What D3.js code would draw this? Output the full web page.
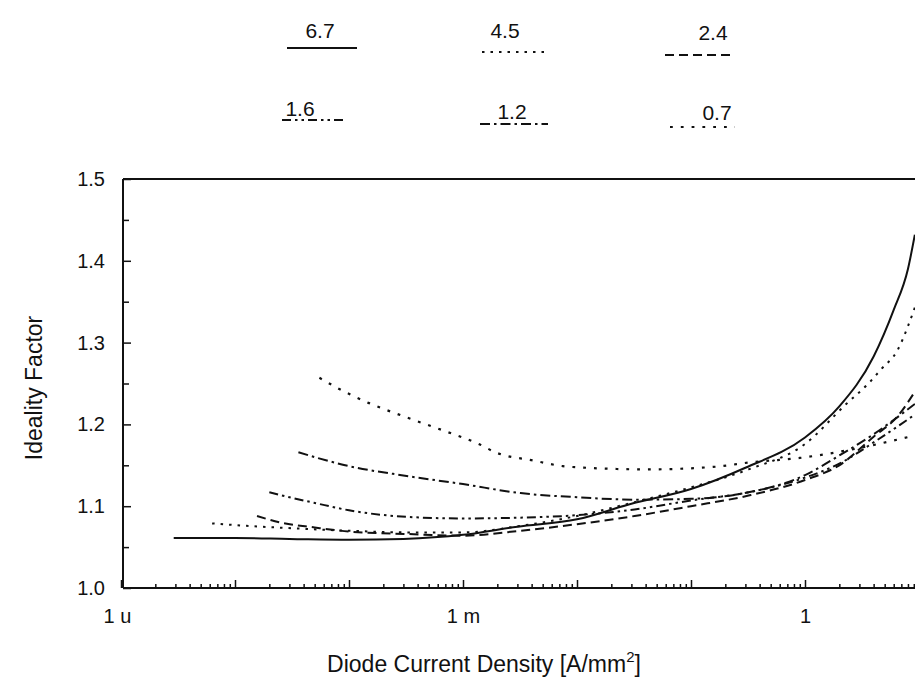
<!DOCTYPE html>
<html><head><meta charset="utf-8">
<script src="https://cdn.jsdelivr.net/npm/d3@7/dist/d3.min.js"></script>
<style>
html,body{margin:0;padding:0;background:#fff;}
svg{display:block;}
text{font-family:"Liberation Sans",Arial,sans-serif;fill:#111;}
</style></head>
<body>
<svg id="chart" width="915" height="691"></svg>
<script>
// ---- data (J in A/mm^2, ideality factor n) ----
const seriesLabels = ["6.7", "4.5", "2.4", "1.6", "1.2", "0.7"];

const j67 = [2.9e-6, 1e-5, 3e-5, 1e-4, 3e-4, 1e-3, 3e-3, 1e-2, 3e-2, 0.1, 0.3, 1, 2, 4, 6, 8, 9.2];
const n67 = [1.061, 1.061, 1.060, 1.059, 1.060, 1.065, 1.075, 1.084, 1.103, 1.121, 1.147, 1.184, 1.222, 1.283, 1.34, 1.39, 1.432];

const j45 = [6.3e-6, 1.26e-5, 3.2e-5, 1e-4, 3.2e-4, 1e-3, 3.2e-3, 1e-2, 3.2e-2, 0.1, 0.32, 1, 2.3, 3.6, 4.7, 6.5, 7.9, 9.2];
const n45 = [1.079, 1.076, 1.073, 1.070, 1.068, 1.068, 1.076, 1.088, 1.105, 1.123, 1.145, 1.176, 1.225, 1.25, 1.268, 1.291, 1.318, 1.343];

const j24 = [1.56e-5, 2.5e-5, 5e-5, 1e-4, 3.2e-4, 1e-3, 3.2e-3, 1e-2, 3.2e-2, 0.1, 0.32, 1, 2, 4, 6.5, 9.2];
const n24 = [1.088, 1.080, 1.074, 1.069, 1.066, 1.064, 1.070, 1.078, 1.088, 1.100, 1.113, 1.132, 1.150, 1.185, 1.21, 1.24];

const j16 = [2.0e-5, 3.2e-5, 5e-5, 1e-4, 3.2e-4, 1e-3, 3.2e-3, 1e-2, 3.2e-2, 0.1, 0.32, 1, 2, 4, 9.2];
const n16 = [1.117, 1.110, 1.104, 1.095, 1.087, 1.085, 1.086, 1.089, 1.096, 1.107, 1.117, 1.135, 1.152, 1.178, 1.212];

const j12 = [3.6e-5, 5e-5, 1e-4, 3.2e-4, 1e-3, 3.2e-3, 1e-2, 3.2e-2, 0.1, 0.32, 1, 2, 4, 9.2];
const n12 = [1.166, 1.160, 1.149, 1.137, 1.127, 1.116, 1.111, 1.108, 1.109, 1.117, 1.138, 1.162, 1.188, 1.225];

const j07 = [5.5e-5, 8.3e-5, 1.5e-4, 3e-4, 7.2e-4, 1.33e-3, 2e-3, 4.1e-3, 7.5e-3, 1.2e-2, 4.1e-2, 0.156, 0.35, 0.9, 2.5, 8.3];
const n07 = [1.257, 1.243, 1.226, 1.210, 1.191, 1.177, 1.165, 1.156, 1.149, 1.147, 1.145, 1.148, 1.154, 1.159, 1.169, 1.185];

const yTicks = [1.0, 1.1, 1.2, 1.3, 1.4, 1.5];
const xTickLabels = [{v: 1e-6, t: "1 u"}, {v: 1e-3, t: "1 m"}, {v: 1, t: "1"}];
const xTitle = "Diode Current Density [A/mm";
const yTitle = "Ideality Factor";

// ---- styles ----
const styles = [
  {dash: null, w: 2.0},
  {dash: "2.5,6", w: 2.0},
  {dash: "9,5", w: 2.0},
  {dash: "9,4,2.5,4,2.5,4", w: 2.0},
  {dash: "10,4,2.5,4", w: 2.0},
  {dash: "2.8,8", w: 2.2}
];
const seriesJ = [j67, j45, j24, j16, j12, j07];
const seriesN = [n67, n45, n24, n16, n12, n07];

const svg = d3.select("#chart");
const pL = 123, pT = 179, pB = 588;

const x = d3.scaleLog().domain([1e-6, 10]).range([121, 919]);
const y = d3.scaleLinear().domain([1.0, 1.5]).range([pB, pT]);

svg.append("defs").append("clipPath").attr("id", "clip")
  .append("rect").attr("x", pL).attr("y", pT - 2).attr("width", 915 - pL).attr("height", pB - pT + 4);

const minorX = [];
for (let e = -6; e <= 0; e++) for (let k = 2; k <= 9; k++) minorX.push(k * Math.pow(10, e));
const majorX = [1e-6, 1e-5, 1e-4, 1e-3, 1e-2, 1e-1, 1];

const gxMinor = svg.append("g").attr("transform", `translate(0,${pB})`)
  .call(d3.axisBottom(x).tickValues(minorX).tickSize(-4).tickFormat(""));
const gxMajor = svg.append("g").attr("transform", `translate(0,${pB})`)
  .call(d3.axisBottom(x).tickValues(majorX).tickSize(-8).tickPadding(21)
    .tickFormat(d => { const f = xTickLabels.find(o => Math.abs(o.v - d) / d < 1e-6); return f ? f.t : ""; }));
[gxMinor, gxMajor].forEach(g => {
  g.select(".domain").remove();
  g.selectAll(".tick line").attr("stroke", "#111").attr("stroke-width", 1.5);
  g.selectAll("text").attr("font-size", 20).attr("fill", "#111");
});
gxMajor.selectAll(".tick text").filter(d => d === 1e-6).attr("dx", -4);

const minorY = [1.05, 1.15, 1.25, 1.35, 1.45];
const gyMinor = svg.append("g").attr("transform", `translate(${pL},0)`)
  .call(d3.axisLeft(y).tickValues(minorY).tickSize(-6).tickFormat(""));
const gyMajor = svg.append("g").attr("transform", `translate(${pL},0)`)
  .call(d3.axisLeft(y).tickValues(yTicks).tickSize(-8).tickPadding(18).tickFormat(d3.format(".1f")));
[gyMinor, gyMajor].forEach(g => {
  g.select(".domain").remove();
  g.selectAll(".tick line").attr("stroke", "#111").attr("stroke-width", 1.5);
  g.selectAll("text").attr("font-size", 20).attr("fill", "#111");
});

svg.append("line").attr("x1", pL).attr("x2", 915).attr("y1", pB).attr("y2", pB).attr("stroke", "#111").attr("stroke-width", 2);
svg.append("line").attr("x1", pL).attr("x2", pL).attr("y1", pT).attr("y2", pB).attr("stroke", "#111").attr("stroke-width", 2);
svg.append("line").attr("x1", pL).attr("x2", 915).attr("y1", pT).attr("y2", pT).attr("stroke", "#111").attr("stroke-width", 2.2);

const line = d3.line().x(d => x(d[0])).y(d => y(d[1])).curve(d3.curveMonotoneX);
const gCurves = svg.append("g").attr("clip-path", "url(#clip)");
seriesJ.forEach((js, i) => {
  const pts = js.map((j, k) => [j, seriesN[i][k]]);
  gCurves.append("path").datum(pts).attr("d", line)
    .attr("fill", "none").attr("stroke", "#111")
    .attr("stroke-width", styles[i].w)
    .attr("stroke-dasharray", styles[i].dash);
});

const legendPos = [
  {tx: 320, ty: 30, x1: 287, x2: 357, ly: 48},
  {tx: 505, ty: 30, x1: 482, x2: 548, ly: 52},
  {tx: 713, ty: 32, x1: 665, x2: 733, ly: 55},
  {tx: 300, ty: 108, x1: 282, x2: 347, ly: 120},
  {tx: 512, ty: 111, x1: 480, x2: 548, ly: 124},
  {tx: 717, ty: 112, x1: 670, x2: 735, ly: 127}
];
const gl = svg.append("g");
seriesLabels.forEach((lab, i) => {
  const p = legendPos[i];
  gl.append("text").attr("x", p.tx).attr("y", p.ty).attr("text-anchor", "middle")
    .attr("dominant-baseline", "central").attr("font-size", 21).text(lab);
  gl.append("line").attr("x1", p.x1).attr("x2", p.x2).attr("y1", p.ly).attr("y2", p.ly)
    .attr("stroke", "#111").attr("stroke-width", styles[i].w).attr("stroke-dasharray", styles[i].dash);
});

const xt = svg.append("text").attr("x", 484).attr("y", 672).attr("text-anchor", "middle").attr("font-size", 23);
xt.append("tspan").text(xTitle);
xt.append("tspan").attr("font-size", 15).attr("dy", -10).text("2");
xt.append("tspan").attr("dy", 10).text("]");

svg.append("text").attr("transform", "translate(42,388) rotate(-90)")
  .attr("text-anchor", "middle").attr("font-size", 23).text(yTitle);
</script>
</body></html>
